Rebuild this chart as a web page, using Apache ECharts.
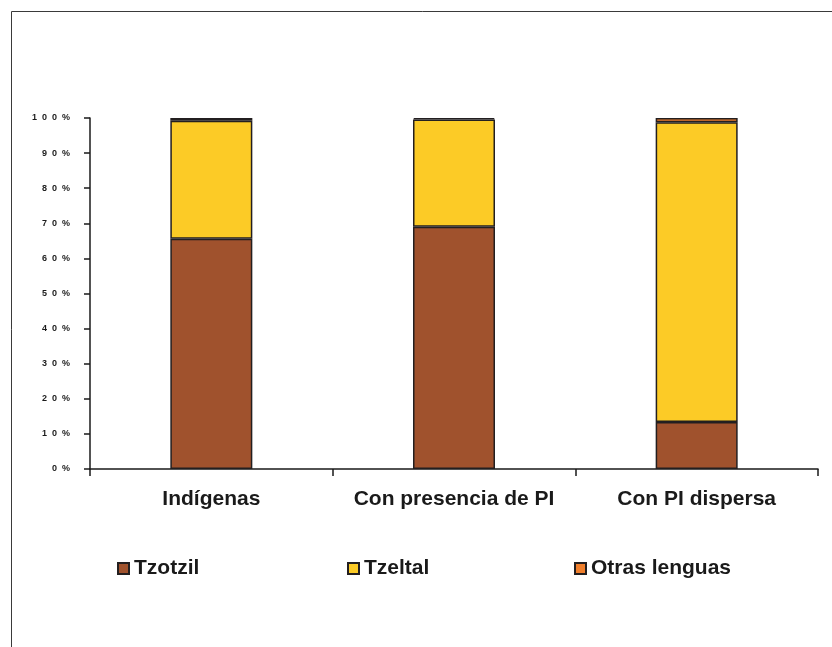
<!DOCTYPE html>
<html>
<head>
<meta charset="utf-8">
<script src="https://cdn.jsdelivr.net/npm/echarts@6/dist/echarts.min.js"></script>
<style>
  html, body { margin: 0; padding: 0; background: #fff; }
  #chart { width: 832px; height: 647px; }
</style>
</head>
<body>
<div id="chart"></div>
<script>
// Distribución porcentual de hablantes por lengua indígena
const categories = ['Indígenas', 'Con presencia de PI', 'Con PI dispersa'];
const seriesNames = ['Tzotzil', 'Tzeltal', 'Otras lenguas'];
const tzotzil = [65.6, 69.0, 13.4];
const tzeltal = [33.6, 30.6, 85.4];
const otras = [0.8, 0.4, 1.2];
const yTicks = [0, 10, 20, 30, 40, 50, 60, 70, 80, 90, 100];

const colors = ['#A0522D', '#FCCB26', '#F07F2C'];
const values = [tzotzil, tzeltal, otras];
const font = '"Liberation Sans", Arial, sans-serif';

const chart = echarts.init(document.getElementById('chart'), null, { renderer: 'canvas' });

const legendLefts = [117, 347, 574];

chart.setOption({
  animation: false,
  backgroundColor: '#ffffff',
  graphic: [{
    type: 'rect',
    shape: { x: 11.5, y: 11.5, width: 900, height: 800 },
    style: { fill: 'none', stroke: '#3a3a3a', lineWidth: 1 },
    silent: true
  }],
  grid: { left: 90, right: 14, top: 118, bottom: 178, containLabel: false },
  legend: seriesNames.map((name, i) => ({
    data: [name],
    left: legendLefts[i],
    top: 558,
    padding: 0,
    icon: 'rect',
    itemWidth: 11,
    itemHeight: 11,
    itemGap: 0,
    textStyle: { fontFamily: font, fontSize: 21, fontWeight: 'bold', color: '#1a1a1a' }
  })),
  xAxis: {
    type: 'category',
    data: categories,
    boundaryGap: true,
    axisLine: { lineStyle: { color: '#1a1a1a', width: 1.5 } },
    axisTick: { show: true, interval: 0, length: 7, inside: false, lineStyle: { color: '#1a1a1a', width: 1.5 } },
    axisLabel: { interval: 0, margin: 20, fontFamily: font, fontSize: 21, fontWeight: 'bold', color: '#1a1a1a' }
  },
  yAxis: {
    type: 'value',
    min: yTicks[0],
    max: yTicks[yTicks.length - 1],
    interval: 10,
    splitLine: { show: false },
    axisLine: { show: true, lineStyle: { color: '#1a1a1a', width: 1.5 } },
    axisTick: { show: true, length: 6, lineStyle: { color: '#1a1a1a', width: 1.5 } },
    axisLabel: {
      margin: 20,
      fontFamily: font,
      fontSize: 9,
      fontWeight: 'bold',
      color: '#1a1a1a',
      formatter: v => (String(v) + '%').split('').join('  ')
    }
  },
  series: seriesNames.map((name, i) => ({
    name: name,
    type: 'bar',
    stack: 'total',
    barWidth: 82,
    data: values[i],
    itemStyle: { color: colors[i], borderColor: '#231F20', borderWidth: 1.5 }
  }))
});
</script>
</body>
</html>
